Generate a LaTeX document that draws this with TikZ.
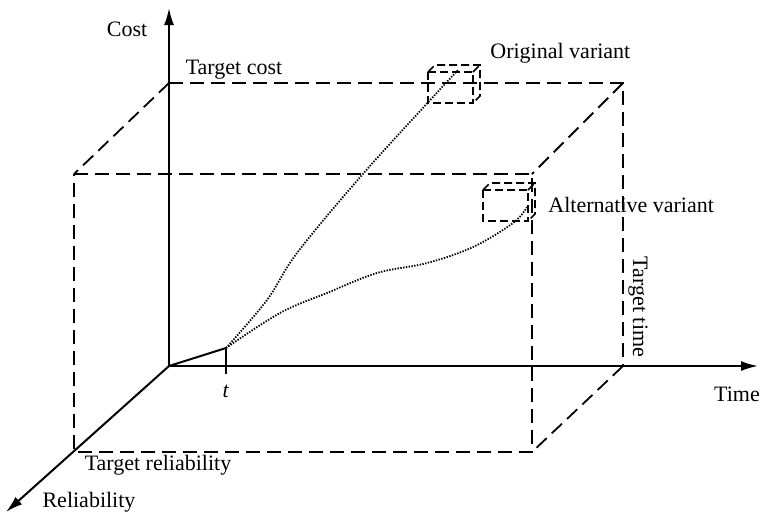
\documentclass[tikz,border=0pt]{standalone}
\usepackage{fontspec}
\setmainfont{Liberation Serif}
\usetikzlibrary{arrows.meta}

\begin{document}
\begin{tikzpicture}[x=0.5pt, y=-0.5pt, >={Latex[length=8.5pt,width=5pt]}, font=\fontsize{11}{13}\selectfont,
  axis/.style={line width=1pt},
  bound/.style={line width=0.9pt, dash pattern=on 7pt off 3.5pt},
  cube/.style={line width=0.8pt, dash pattern=on 4pt off 2pt},
  trend/.style={line width=0.9pt, dash pattern=on 0.7pt off 0.7pt},
  lbl/.style={inner sep=0pt}]
\useasboundingbox (0,0) rectangle (760,516);
% axes
\coordinate (O) at (169,366);
\coordinate (cmax) at (169,8);
\coordinate (tmax) at (758,366);
\coordinate (rmax) at (6,512);
\draw[axis,->] (O) -- (cmax);
\draw[axis,->] (O) -- (tmax);
\draw[axis,->] (O) -- (rmax);
\node[lbl] (cost) at (127,29) {Cost};
\node[lbl] (time) at (737,394) {Time};
\node[lbl] (rel) at (89,502) {Reliability};
% target box: back (b) and front (f) corners
\coordinate (btl) at (169,83);
\coordinate (btr) at (623,83);
\coordinate (bbr) at (623,366);
\coordinate (ftl) at (74,174);
\coordinate (ftr) at (532,174);
\coordinate (fbr) at (532,452);
\coordinate (fbl) at (74,452);
\draw[bound] (btl) -- (btr) -- (bbr);
\draw[bound] (ftl) -- (ftr) -- (fbr) -- (fbl) -- cycle;
\draw[bound] (btl) -- (ftl);
\draw[bound] (btr) -- (ftr);
\draw[bound] (bbr) -- (fbr);
\node[lbl] (tcost) at (234,70) {Target cost};
\node[lbl, rotate=-90] (ttime) at (638,307) {Target time};
\node[lbl] (trel) at (158,465) {Target reliability};
% moment t
\coordinate (t) at (226,348);
\coordinate (tbot) at (226,374);
\draw[axis] (O) -- (t);
\draw[axis, line width=0.8pt] (t) -- (tbot);
\node[lbl] (tlbl) at (226,391) {\textit{t}};
% variant cubes
\foreach \cx/\cy in {428/72, 483/190} {
  \draw[cube] (\cx,\cy) rectangle ++(45,31);
  \draw[cube] (\cx,\cy) -- ++(7,-7) -- ++(45,0) -- ++(0,31) -- ++(-7,7);
  \draw[cube] (\cx+45,\cy) -- ++(7,-7);
}
\coordinate (oend) at (458,70);
\coordinate (aend) at (527,207);
\draw[trend] plot[smooth, tension=0.6] coordinates {(t) (267,300) (297,253) (362,175) (433,97) (oend)};
\draw[trend] plot[smooth, tension=0.6] coordinates {(t) (280,313) (327,293) (377,273) (427,263) (473,247) (513,223) (aend)};
\node[lbl, anchor=west] (orig) at (490,53) {Original variant};
\node[lbl, anchor=west] (alt) at (548,205) {Alternative variant};
\end{tikzpicture}
\end{document}
